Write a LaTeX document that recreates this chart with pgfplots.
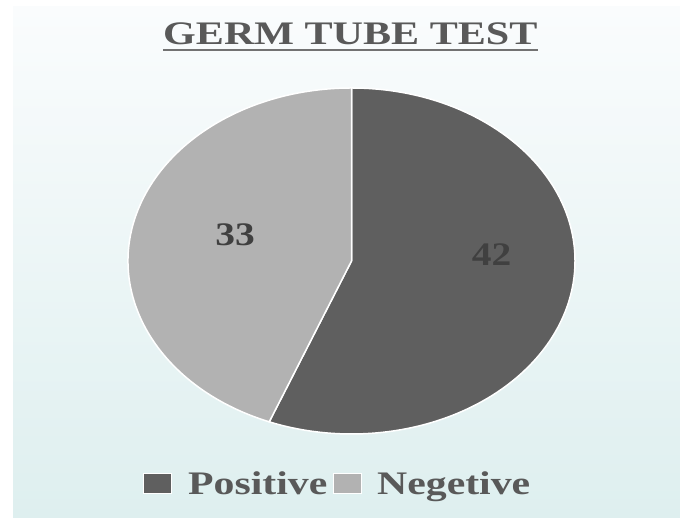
\documentclass[border=0pt]{standalone}
\usepackage{fontspec}
\setmainfont{Liberation Serif}
\usepackage{graphicx}
\usepackage{pgfplots}
\pgfplotsset{compat=1.18}
\usepackage{pgfplotstable}
\definecolor{posgray}{HTML}{5F5F5F}
\definecolor{neggray}{HTML}{B2B2B2}
\definecolor{labtxt}{HTML}{404040}
\definecolor{captxt}{HTML}{595959}
\definecolor{bgtop}{HTML}{FAFCFD}
\definecolor{bgmid}{HTML}{EAF4F5}
\definecolor{bgbot}{HTML}{DEEFEF}

% slice values (clockwise from 12 o'clock)
\pgfplotstableread{
label value
Positive 42
Negetive 33
}\germdata

\newcommand{\bigtxt}[2]{\scalebox{#1}[1]{\bfseries\fontsize{33}{36}\selectfont #2}}

\begin{document}
\begin{tikzpicture}
  \begin{scope}[x=1bp,y=1bp]
  \useasboundingbox (0,0) rectangle (680,518);
  \shade[top color=bgtop, middle color=bgmid, bottom color=bgbot] (13,0) rectangle (680,511);
  \end{scope}

  \pgfplotstablegetelem{0}{value}\of\germdata \let\vpos\pgfplotsretval
  \pgfplotstablegetelem{1}{value}\of\germdata \let\vneg\pgfplotsretval
  \pgfmathsetmacro\aend{90-360*\vpos/(\vpos+\vneg)}

  \begin{axis}[
    at={(128bp,84bp)}, anchor=south west,
    width=447bp, height=346bp, scale only axis,
    hide axis, clip=false,
    xmin=-1, xmax=1, ymin=-1, ymax=1,
  ]
    \filldraw[fill=posgray, draw=white, line width=1.5bp]
      (axis cs:0,0) -- (axis cs:0,1)
      arc[start angle=90, end angle=\aend, x radius=223.5bp, y radius=173bp] -- cycle;
    \filldraw[fill=neggray, draw=white, line width=1.5bp]
      (axis cs:0,0) -- (axis cs:{cos(\aend)},{sin(\aend)})
      arc[start angle=\aend, end angle=-270, x radius=223.5bp, y radius=173bp] -- cycle;
    \node[text=labtxt, inner sep=0] at (axis cs:0.627,0.036) {\bigtxt{1.2}{\vpos}};
    \node[text=labtxt, inner sep=0] at (axis cs:-0.521,0.150) {\bigtxt{1.2}{\vneg}};
  \end{axis}

  \begin{scope}[x=1bp,y=1bp]
  % title
  \node[anchor=base west, inner sep=0, text=captxt] (ttl) at (163,473.7) {\bigtxt{1.28}{GERM TUBE TEST}};
  \draw[color=captxt!85, line width=2bp] ([yshift=-5.7bp]ttl.base west) -- ([yshift=-5.7bp]ttl.base east);

  % legend
  \filldraw[fill=posgray, draw=white, line width=0.6bp] (143,25) rectangle (171,45);
  \node[anchor=base west, inner sep=0, text=captxt] at (188,23.7) {\bigtxt{1.27}{Positive}};
  \filldraw[fill=neggray, draw=white, line width=0.6bp] (333,25) rectangle (361,45);
  \node[anchor=base west, inner sep=0, text=captxt] at (377,23.7) {\bigtxt{1.27}{Negetive}};
  \end{scope}
\end{tikzpicture}
\end{document}
